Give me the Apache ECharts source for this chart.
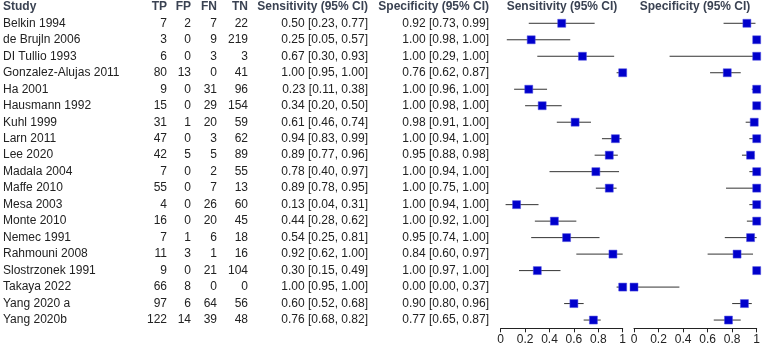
<!DOCTYPE html>
<html>
<head>
<meta charset="utf-8">
<script src="https://cdn.jsdelivr.net/npm/echarts@6/dist/echarts.min.js"></script>
<style>
html,body{margin:0;padding:0;background:#fff;}
#main{width:764px;height:346px;}
</style>
</head>
<body>
<div id="main"></div>
<script>
// studies + 2x2 counts
var studies = ['Belkin 1994','de Brujln 2006','DI Tullio 1993','Gonzalez-Alujas 2011','Ha 2001','Hausmann 1992','Kuhl 1999','Larn 2011','Lee 2020','Madala 2004','Maffe 2010','Mesa 2003','Monte 2010','Nemec 1991','Rahmouni 2008','Slostrzonek 1991','Takaya 2022','Yang 2020 a','Yang 2020b'];
var tp = [7,3,6,80,9,15,31,47,42,7,55,4,16,7,11,9,66,97,122];
var fp = [2,0,0,13,0,0,1,0,5,0,0,0,0,1,3,0,8,6,14];
var fn = [7,9,3,0,31,29,20,3,5,2,7,26,20,6,1,21,0,64,39];
var tn = [22,219,3,41,96,154,59,62,89,55,13,60,45,18,16,104,0,56,48];

// sensitivity / specificity with 95% CI
var sens   = [0.50,0.25,0.67,1.00,0.23,0.34,0.61,0.94,0.89,0.78,0.89,0.13,0.44,0.54,0.92,0.30,1.00,0.60,0.76];
var sensLo = [0.23,0.05,0.30,0.95,0.11,0.20,0.46,0.83,0.77,0.40,0.78,0.04,0.28,0.25,0.62,0.15,0.95,0.52,0.68];
var sensHi = [0.77,0.57,0.93,1.00,0.38,0.50,0.74,0.99,0.96,0.97,0.95,0.31,0.62,0.81,1.00,0.49,1.00,0.68,0.82];
var spec   = [0.92,1.00,1.00,0.76,1.00,1.00,0.98,1.00,0.95,1.00,1.00,1.00,1.00,0.95,0.84,1.00,0.00,0.90,0.77];
var specLo = [0.73,0.98,0.29,0.62,0.96,0.98,0.91,0.94,0.88,0.94,0.75,0.94,0.92,0.74,0.60,0.97,0.00,0.80,0.65];
var specHi = [0.99,1.00,1.00,0.87,1.00,1.00,1.00,1.00,0.98,1.00,1.00,1.00,1.00,1.00,0.97,1.00,0.37,0.96,0.87];

var headers = ['Study','TP','FP','FN','TN','Sensitivity (95% CI)','Specificity (95% CI)'];
var plotTitles = ['Sensitivity (95% CI)','Specificity (95% CI)'];

// column layout (pixels in the table grid)
var colX = [3,167,191,217,248,368,489];
var colAlign = ['left','right','right','right','right','right','right'];
var plotTitleX = [562,695];

var FONT = '"Liberation Sans", Arial, sans-serif';

function fmt(v,lo,hi){
    return v.toFixed(2)+' ['+lo.toFixed(2)+', '+hi.toFixed(2)+']';
}

var tableRows = [];
tableRows.push({value:[-1], cells:headers, head:true});
for(var i=0;i<studies.length;i++){
    tableRows.push({value:[i], cells:[studies[i],tp[i],fp[i],fn[i],tn[i],fmt(sens[i],sensLo[i],sensHi[i]),fmt(spec[i],specLo[i],specHi[i])]});
}

function tableItem(params, api){
    var row = tableRows[params.dataIndex];
    var r = api.value(0);
    var kids = [];
    for(var c=0;c<row.cells.length;c++){
        var p = api.coord([colX[c], r]);
        kids.push({
            type:'text',
            style:{
                x:p[0], y:p[1], text:String(row.cells[c]),
                align:colAlign[c], verticalAlign:'middle',
                font:(row.head?'bold ':'')+'12px '+FONT,
                fill:row.head?'#3a4252':'#222'
            }
        });
    }
    if(row.head){
        for(var k=0;k<plotTitles.length;k++){
            var q = api.coord([plotTitleX[k], r]);
            kids.push({type:'text',style:{x:q[0],y:q[1],text:plotTitles[k],align:'center',verticalAlign:'middle',font:'bold 12px '+FONT,fill:'#3a4252'}});
        }
    }
    return {type:'group', children:kids};
}

function ciItem(params, api){
    var a = api.coord([api.value(0), api.value(2)]);
    var b = api.coord([api.value(1), api.value(2)]);
    return {type:'line', shape:{x1:a[0],y1:a[1],x2:b[0],y2:b[1]}, style:{stroke:'#333',lineWidth:1}};
}

function ciData(lo,hi){
    var d=[];
    for(var i=0;i<lo.length;i++) d.push([lo[i],hi[i],i]);
    return d;
}
function ptData(v){
    var d=[];
    for(var i=0;i<v.length;i++) d.push([v[i],i]);
    return d;
}

var yMin=-1, yMax=18.5;
var plotTop=6.8, plotH=321.5;

function plotX(idx){
    return {
        gridIndex:idx, type:'value', min:0, max:1, interval:0.2,
        splitLine:{show:false},
        axisLine:{show:true,onZero:false,lineStyle:{color:'#222',width:1}},
        axisTick:{show:true,length:4,lineStyle:{color:'#222'}},
        axisLabel:{color:'#222',fontSize:12,fontFamily:FONT,margin:5,
            formatter:function(v){ return String(Math.round(v*10)/10); }}
    };
}
function hiddenY(idx){
    return {gridIndex:idx,type:'value',inverse:true,min:yMin,max:yMax,show:false};
}

var option = {
    animation:false,
    backgroundColor:'#fff',
    grid:[
        {left:0, width:764, top:plotTop, height:plotH},
        {left:500.7, width:122, top:plotTop, height:plotH},
        {left:634, width:122.7, top:plotTop, height:plotH}
    ],
    xAxis:[
        {gridIndex:0,type:'value',min:0,max:764,show:false},
        plotX(1),
        plotX(2)
    ],
    yAxis:[hiddenY(0),hiddenY(1),hiddenY(2)],
    series:[
        {type:'custom',xAxisIndex:0,yAxisIndex:0,renderItem:tableItem,data:tableRows,clip:false,silent:true},
        {type:'custom',xAxisIndex:1,yAxisIndex:1,renderItem:ciItem,data:ciData(sensLo,sensHi),encode:{x:[0,1],y:2},clip:false,z:2},
        {type:'custom',xAxisIndex:2,yAxisIndex:2,renderItem:ciItem,data:ciData(specLo,specHi),encode:{x:[0,1],y:2},clip:false,z:2},
        {type:'scatter',xAxisIndex:1,yAxisIndex:1,data:ptData(sens),symbol:'rect',symbolSize:8,
            itemStyle:{color:'#0000cc',borderColor:'#5050e0',borderWidth:0.5,opacity:1},clip:false,z:3},
        {type:'scatter',xAxisIndex:2,yAxisIndex:2,data:ptData(spec),symbol:'rect',symbolSize:8,
            itemStyle:{color:'#0000cc',borderColor:'#5050e0',borderWidth:0.5,opacity:1},clip:false,z:3}
    ]
};

var myChart = echarts.init(document.getElementById('main'));
myChart.setOption(option);
</script>
</body>
</html>
